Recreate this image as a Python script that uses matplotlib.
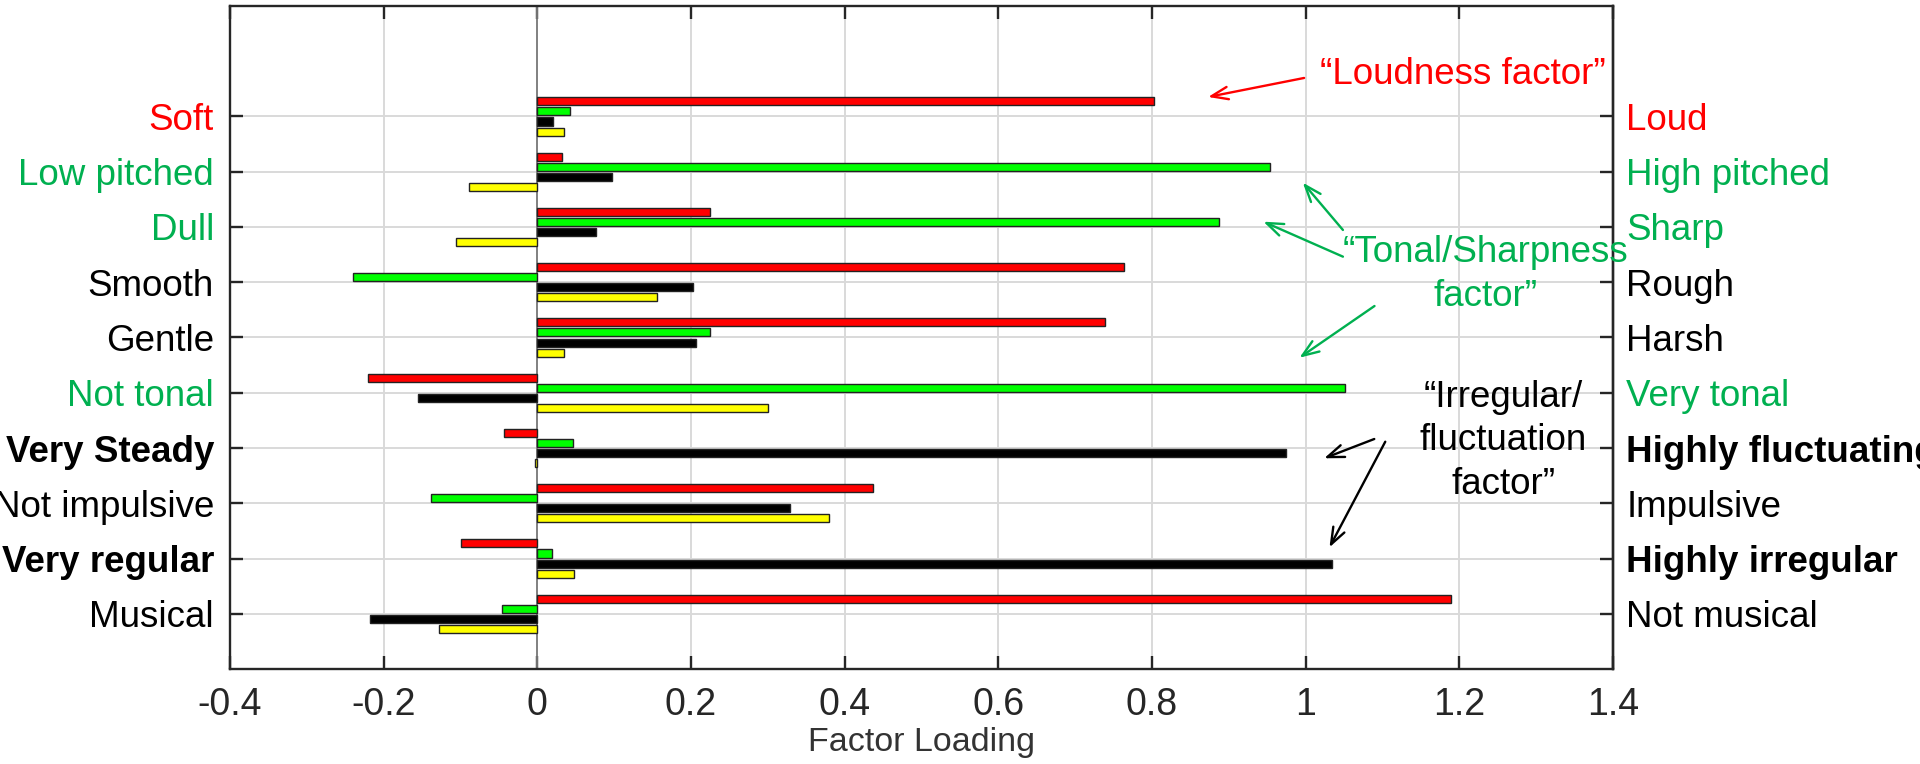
import numpy as np
import matplotlib
matplotlib.use("Agg")
import matplotlib.pyplot as plt

plt.rcParams["font.family"] = ["Liberation Sans", "DejaVu Sans"]
plt.rcParams["axes.unicode_minus"] = False

# Bipolar attribute scales (low end / high end)
left_labels = ["Soft", "Low pitched", "Dull", "Smooth", "Gentle", "Not tonal",
               "Very Steady", "Not impulsive", "Very regular", "Musical"]
right_labels = ["Loud", "High pitched", "Sharp", "Rough", "Harsh", "Very tonal",
                "Highly fluctuating", "Impulsive", "Highly irregular", "Not musical"]
label_groups = ["loud", "tonal", "tonal", "plain", "plain", "tonal",
                "fluct", "plain", "fluct", "plain"]

# Factor loadings for the four extracted factors
factor_red = [0.802, 0.032, 0.225, 0.763, 0.739, -0.221, -0.043, 0.437, -0.100, 1.189]
factor_green = [0.042, 0.954, 0.887, -0.240, 0.225, 1.051, 0.046, -0.138, 0.019, -0.046]
factor_black = [0.020, 0.097, 0.076, 0.202, 0.207, -0.155, 0.974, 0.329, 1.034, -0.218]
factor_yellow = [0.035, -0.089, -0.106, 0.156, 0.035, 0.300, -0.003, 0.380, 0.048, -0.128]

x_ticks = [-0.4, -0.2, 0, 0.2, 0.4, 0.6, 0.8, 1.0, 1.2, 1.4]
x_ticklabels = ["-0.4", "-0.2", "0", "0.2", "0.4", "0.6", "0.8", "1", "1.2", "1.4"]

RED = "#ff0000"
PPT_GREEN = "#00b050"
AX_GRAY = "#262626"
group_style = {
    "loud": (RED, "normal"),
    "tonal": (PPT_GREEN, "normal"),
    "plain": ("black", "normal"),
    "fluct": ("black", "bold"),
}

fig = plt.figure(figsize=(19.2, 7.64), dpi=100)
ax = fig.add_axes([0.1198, 0.1243, 0.7203, 0.8679])

pos = np.arange(len(left_labels))
series = [factor_red, factor_green, factor_black, factor_yellow]
fills = ["#ff0000", "#00ff00", "#000000", "#ffff00"]
step = 0.1818
bar_h = 0.145
for k, (vals, fc) in enumerate(zip(series, fills)):
    off = (k - 1.5) * step
    ax.barh(pos + off, vals, height=bar_h, color=fc, edgecolor="#222222",
            linewidth=1.0, zorder=3)

ax.axvline(0, color="#7a7a7a", lw=1.3, zorder=2)

ax.set_xlim(-0.4, 1.4)
ax.set_ylim(10, -2)
ax.set_xticks(x_ticks)
ax.set_xticklabels(x_ticklabels)
ax.set_yticks(pos)
ax.set_yticklabels(left_labels)

ax.grid(True, color="#d9d9d9", lw=1.4, zorder=0)
ax.set_axisbelow(True)

for sp in ax.spines.values():
    sp.set_color(AX_GRAY)
    sp.set_linewidth(1.7)

ax.tick_params(axis="both", direction="in", length=9.5, width=1.7,
               color=AX_GRAY, top=True, right=True)
ax.tick_params(axis="x", labelsize=27, labelcolor=AX_GRAY, pad=13)
ax.tick_params(axis="y", labelsize=26.5, pad=11.5)

for lab, grp in zip(ax.get_yticklabels(), label_groups):
    c, w = group_style[grp]
    lab.set_color(c)
    lab.set_fontweight(w)

sec = ax.secondary_yaxis("right")
sec.set_yticks(pos)
sec.set_yticklabels(right_labels)
sec.tick_params(axis="y", length=0, labelsize=26.5, pad=9.5)
sec.spines["right"].set_color(AX_GRAY)
sec.spines["right"].set_linewidth(1.7)
for lab, grp in zip(sec.get_yticklabels(), label_groups):
    c, w = group_style[grp]
    lab.set_color(c)
    lab.set_fontweight(w)

ax.set_xlabel("Factor Loading", fontsize=24.5, color="#333333", labelpad=3)

# Factor call-outs
note_fs = 26.5
head = "->,head_length=1.2,head_width=0.45"
ax.text(1.204, -0.588, "\u201cLoudness factor\u201d", color=RED, fontsize=note_fs,
        ha="center", va="baseline", zorder=5)
ax.annotate("", xy=(0.873, -0.353), xytext=(0.998, -0.697),
            arrowprops=dict(arrowstyle=head, color=RED, lw=1.7,
                            shrinkA=0, shrinkB=0))

ax.text(1.234, 2.86, "\u201cTonal/Sharpness\nfactor\u201d", color=PPT_GREEN,
        fontsize=note_fs, ha="center", va="center", multialignment="center",
        linespacing=1.3, zorder=5, clip_on=False)
for (x0, y0), (x1, y1) in [((1.0485, 2.054), (0.9963, 1.198)),
                           ((1.0485, 2.537), (0.945, 1.904)),
                           ((1.0896, 3.430), (0.9919, 4.366))]:
    ax.annotate("", xy=(x1, y1), xytext=(x0, y0),
                arrowprops=dict(arrowstyle=head, color=PPT_GREEN, lw=1.7,
                                shrinkA=0, shrinkB=0))

ax.text(1.257, 5.873, "\u201cIrregular/\nfluctuation\nfactor\u201d", color="black",
        fontsize=note_fs, ha="center", va="center", multialignment="center",
        linespacing=1.3, zorder=5)
for (x0, y0), (x1, y1) in [((1.0893, 5.837), (1.0241, 6.186)),
                           ((1.1036, 5.886), (1.031, 7.797))]:
    ax.annotate("", xy=(x1, y1), xytext=(x0, y0),
                arrowprops=dict(arrowstyle=head, color="black", lw=1.7,
                                shrinkA=0, shrinkB=0))

fig.savefig("out.png", dpi=100, facecolor="white")
